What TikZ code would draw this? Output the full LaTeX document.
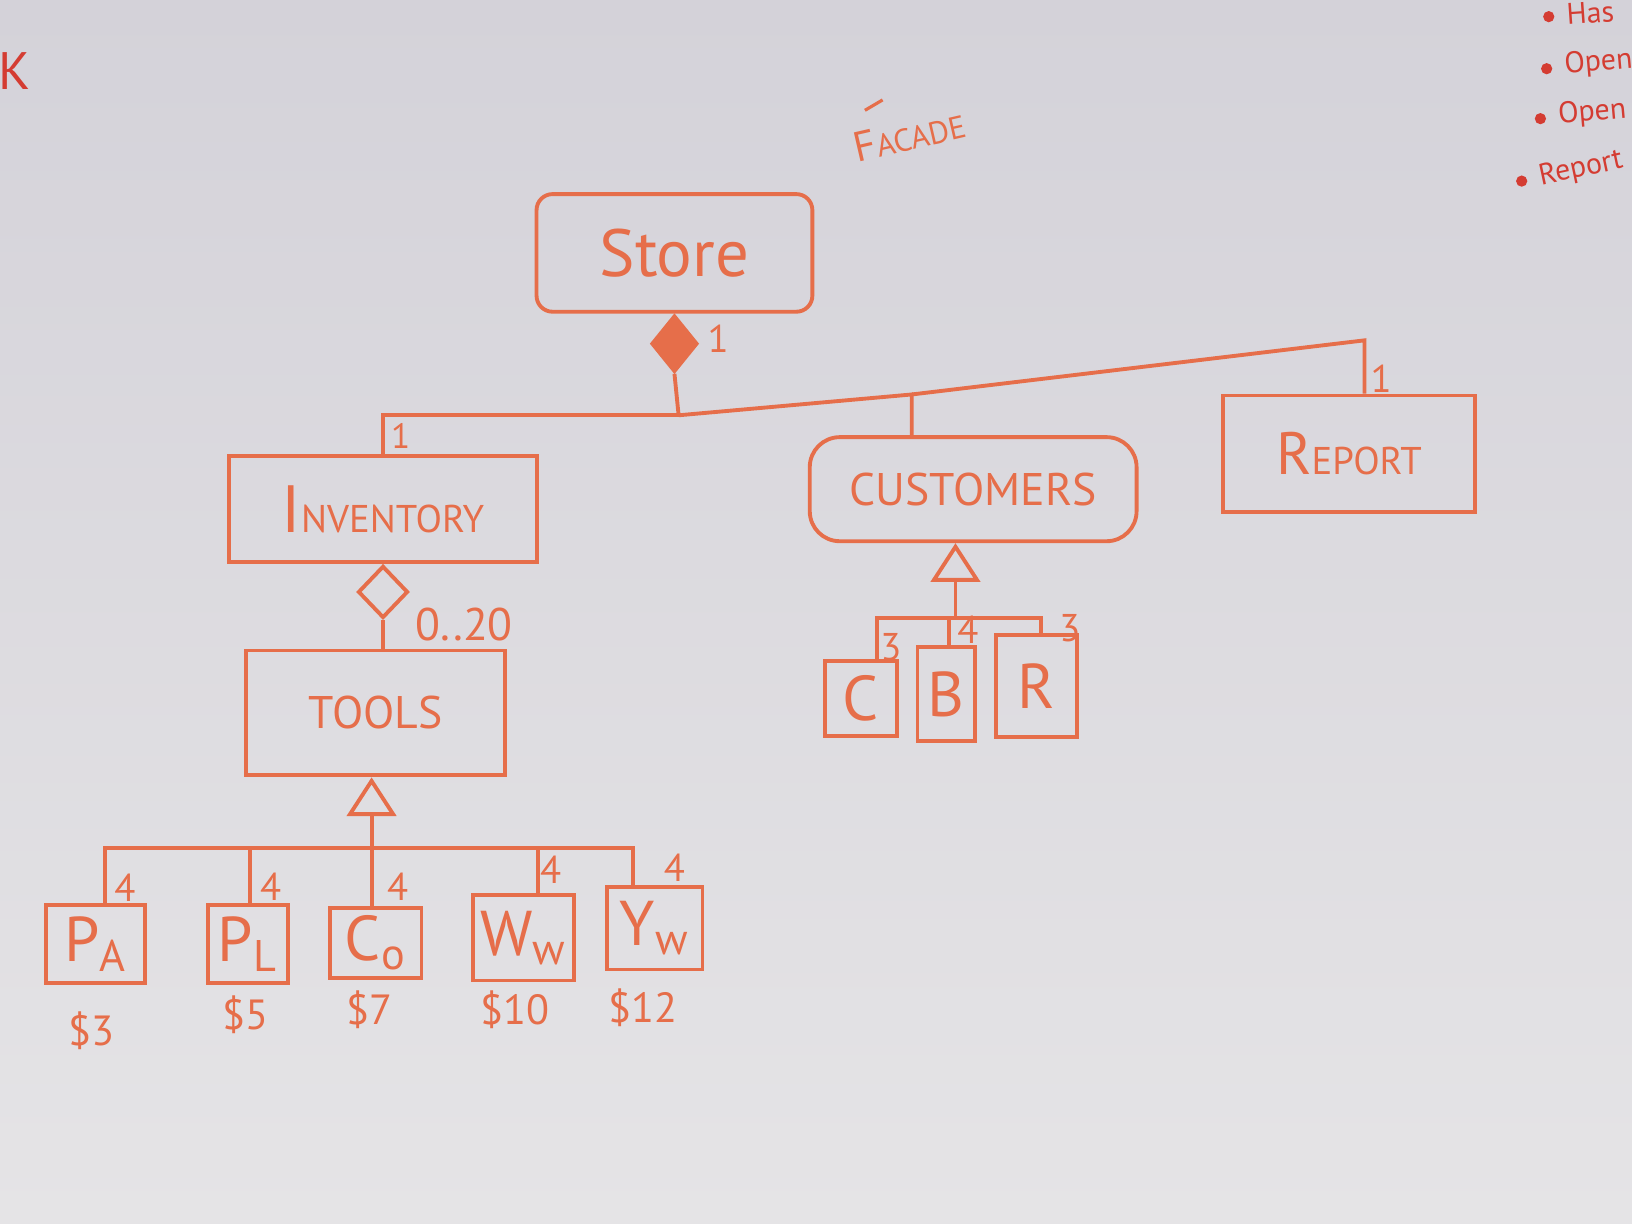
\documentclass[tikz,border=0pt]{standalone}
\usepackage{fontspec}
\setmainfont{PT Sans}
\usetikzlibrary{shapes, shapes.geometric}
\usetikzlibrary{arrows, arrows.meta}
\usetikzlibrary{positioning}

\definecolor{boardtop}{RGB}{212,210,217}
\definecolor{boardlow}{RGB}{229,228,230}
\definecolor{ink}{RGB}{230,110,74}
\definecolor{redink}{RGB}{212,60,50}

\def\px{0.010408cm}

\tikzset{
    classbox/.style = {draw, inner sep = 0pt, font = \fontsize{13}{15}\selectfont},
    kindbox/.style  = {classbox, font = \fontsize{18}{20}\selectfont},
    dims/.style 2 args = {minimum width = #1*\px, minimum height = #2*\px},
    compos/.style  = {diamond, draw, fill = ink, inner sep = 0pt,
                      minimum width = 44*\px, minimum height = 54*\px},
    aggreg/.style  = {compos, fill = none, minimum width = 48*\px, minimum height = 50*\px},
    inherit/.style = {-{Triangle[open, length = 11pt, width = 14pt]}},
    mult/.style    = {font = \fontsize{11}{12}\selectfont, inner sep = 1pt},
    price/.style   = {font = \fontsize{12}{13}\selectfont, inner sep = 1pt},
    note/.style    = {redink, anchor = west, font = \fontsize{8.5}{10}\selectfont, inner sep = 1pt}
}

\begin{document}
\begin{tikzpicture}[ink, line width = 1.1pt, x = \px, y = -\px]

    % whiteboard
    \shade[top color = boardtop, bottom color = boardlow] (0,0) rectangle (1568,1176);
    \clip[use as bounding box] (0,0) rectangle (1568,1176);

    \node[rotate = 13, font = \fontsize{9}{10}\selectfont] (Facade) at (874,130)
        {{\fontsize{12}{13}\selectfont F}ACADE};
    \draw[line width = 0.9pt] (831,106) -- (848,96);

    % classes
    \node[classbox, dims = {265}{113}, rounded corners = 1.6mm,
          font = \fontsize{19}{22}\selectfont] (Store) at (648,243) {Store};
    \node[classbox, dims = {296}{102}, font = \fontsize{11}{13}\selectfont] (Inventory) at (368,489)
        {{\fontsize{19}{22}\selectfont I}NVENTORY};
    \node[classbox, dims = {314}{100}, rounded corners = 3mm,
          font = \fontsize{13}{15}\selectfont] (Customers) at (935,470) {CUSTOMERS};
    \node[classbox, dims = {242}{112}, font = \fontsize{11}{13}\selectfont] (Report) at (1296,436)
        {{\fontsize{17}{20}\selectfont R}EPORT};
    \node[classbox, dims = {249}{120}] (Tools) at (361,685) {TOOLS};

    \node[compos, anchor = north] (StoreDia) at (Store.south) {};
    \node[mult] (MultStore) at (690,325) {1};

    \coordinate (Trunk) at (652,399);
    \coordinate (CustJoin) at (876,379);
    \coordinate (RepJoin) at (1311,327);

    \draw (StoreDia.south) -- (Trunk);
    \draw (Trunk) -| (Inventory.north);
    \draw (Trunk) -- (CustJoin) -- (CustJoin |- Customers.north);
    \draw (CustJoin) -- (RepJoin) -- (RepJoin |- Report.north);
    \node[mult, font = \fontsize{10}{11}\selectfont] (MultInv) at (385,419) {1};
    \node[mult] (MultRep) at (1327,364) {1};

    \node[aggreg, anchor = north] (InvDia) at (Inventory.south) {};
    \draw (InvDia.south) -- (InvDia.south |- Tools.north);
    \node[mult, font = \fontsize{13}{14}\selectfont] (MultTools) at (446,600) {0..20};

    % kinds of tools
    \coordinate (ToolBus) at (357,815);
    \draw[inherit] (ToolBus) -- (ToolBus |- Tools.south);

    \node[kindbox, dims = {95}{75}] (PA) at (92,907) {P\textsubscript{A}};
    \node[kindbox, dims = {77}{75}] (PL) at (238,907) {P\textsubscript{L}};
    \node[kindbox, dims = {88}{67}] (Co) at (361,906) {C\textsubscript{o}};
    \node[kindbox, dims = {97}{82}] (Ww) at (503,901) {W\textsubscript{w}};
    \node[kindbox, dims = {92}{79}] (Yw) at (629,892) {Y\textsubscript{w}};

    \foreach \NAME/\DROP/\LX/\LY in {PA/101/120/853, PL/240/260/852, Co/357/382/852,
                                    Ww/517/529/836, Yw/608/648/834}{
        \coordinate (Drop\NAME) at (\DROP,815);
        \draw (ToolBus) -- (Drop\NAME) -- (Drop\NAME |- \NAME.north);
        \node[mult] (Mult\NAME) at (\LX,\LY) {4};
    }

    \foreach \NAME/\PX/\PY/\AMT in {PA/88/990/3, PL/236/975/5, Co/355/970/7,
                                   Ww/495/970/10, Yw/618/968/12}
        \node[price] (Price\NAME) at (\PX,\PY) {\$\AMT};

    % kinds of customers
    \coordinate (CustBus) at (918,594);
    \draw[inherit] (CustBus) -- (CustBus |- Customers.south);

    \node[kindbox, dims = {69}{72}] (C) at (827,671) {C};
    \node[kindbox, dims = {55}{90}] (B) at (909,667) {B};
    \node[kindbox, dims = {78}{98}] (R) at (996,659) {R};

    \foreach \NAME/\DROP/\LX/\LY/\NUM in {C/843/856/622/3, B/912/930/605/4, R/1000/1028/604/3}{
        \coordinate (Drop\NAME) at (\DROP,594);
        \draw (CustBus) -- (Drop\NAME) -- (Drop\NAME |- \NAME.north);
        \node[mult] (Mult\NAME) at (\LX,\LY) {\NUM};
    }

    % notes at the edges
    \node[redink, font = \fontsize{15}{16}\selectfont] (Kmark) at (14,68) {K};
    \foreach \ROW/\BX/\NY/\NTXT/\NROT in {0/1488/14/Has/4, 1/1486/64/Open/5,
                                         2/1480/112/Open/5, 3/1462/172/Report/12}{
        \fill[redink] (\BX,\NY+2) circle (1.6pt);
        \node[note, rotate = \NROT] (Note\ROW) at (\BX+12,\NY) {\NTXT};
    }

\end{tikzpicture}
\end{document}
